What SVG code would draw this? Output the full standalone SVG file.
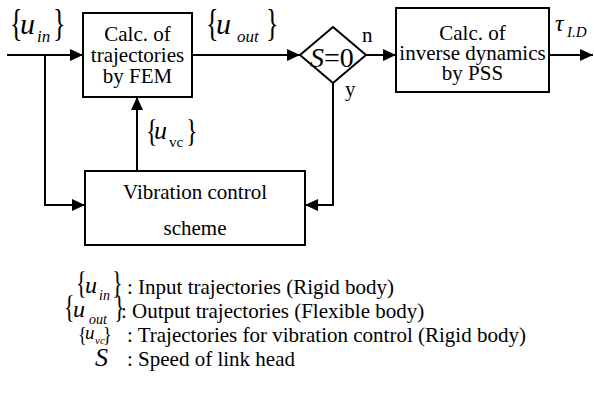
<svg xmlns="http://www.w3.org/2000/svg" width="594" height="396" viewBox="0 0 594 396" font-family="'Liberation Serif', 'Times New Roman', serif">
<style>
text{font-family:'Liberation Serif','Times New Roman',serif;fill:#000}
.lbl{font-size:21px;text-anchor:middle}
.it{font-style:italic}
.leg{font-size:21px}
.box{fill:#fff;stroke:#000;stroke-width:2}
.ln{fill:none;stroke:#000;stroke-width:2}
</style>
<defs>
<marker id="ah" markerUnits="userSpaceOnUse" markerWidth="14" markerHeight="12" refX="13" refY="6" orient="auto">
<path d="M0,0 L13,6 L0,12 Z" fill="#000"/>
</marker>
</defs>
<rect width="594" height="396" fill="#fff"/>
<g id="connectors">
<path class="ln" d="M7,55 H83" marker-end="url(#ah)"/>
<path class="ln" d="M45,55 V205 H85" marker-end="url(#ah)"/>
<path class="ln" d="M192,55 H300" marker-end="url(#ah)"/>
<path class="ln" d="M366,55 H396" marker-end="url(#ah)"/>
<path class="ln" d="M549,55 H593" marker-end="url(#ah)"/>
<path class="ln" d="M333,83 V205 H305" marker-end="url(#ah)"/>
<path class="ln" d="M137,171 V97" marker-end="url(#ah)"/>
</g>
<g id="fem">
<rect class="box" x="83" y="13" width="109" height="84"/>
<text class="lbl" x="137.5" y="41">Calc. of</text>
<text class="lbl" x="137.5" y="62">trajectories</text>
<text class="lbl" x="137.5" y="83">by FEM</text>
</g>
<g id="decision">
<path class="box" d="M333,27 L366,55 L333,83 L300,55 Z"/>
<text x="310" y="67" font-size="28"><tspan class="it">S</tspan>=0</text>
<text x="362" y="42" font-size="21">n</text>
<text x="345" y="96" font-size="21">y</text>
</g>
<g id="pss">
<rect class="box" x="396" y="8" width="153" height="84"/>
<text class="lbl" x="472.5" y="40">Calc. of</text>
<text class="lbl" x="472.5" y="60">inverse dynamics</text>
<text class="lbl" x="472.5" y="80">by PSS</text>
</g>
<g id="vib">
<rect class="box" x="85" y="171" width="220" height="74"/>
<text class="lbl" x="195" y="199">Vibration control</text>
<text class="lbl" x="195" y="235">scheme</text>
</g>
<g id="labels">
<text transform="translate(10,36) scale(1,1.45)" font-size="26">{</text>
<text x="20" y="34" font-size="30" class="it">u</text>
<text x="37" y="42" font-size="17" class="it">in</text>
<text transform="translate(53,36) scale(1,1.45)" font-size="26">}</text>

<text transform="translate(206,36) scale(1,1.45)" font-size="26">{</text>
<text x="216" y="34" font-size="30" class="it">u</text>
<text x="237" y="42" font-size="17" class="it">out</text>
<text transform="translate(266,36) scale(1,1.45)" font-size="26">}</text>

<text transform="translate(146,142) scale(1,1.3)" font-size="24">{</text>
<text x="154" y="139" font-size="26" class="it">u</text>
<text x="169" y="147" font-size="15">vc</text>
<text transform="translate(186,142) scale(1,1.3)" font-size="24">}</text>

<text x="555" y="31" font-size="24" class="it">τ</text>
<text x="567" y="37" font-size="15" class="it">I.D</text>
</g>
<g id="legend">
<text transform="translate(76,294) scale(1,1.4)" font-size="22">{</text>
<text x="85" y="293" font-size="24" class="it">u</text>
<text x="99" y="300" font-size="14" class="it">in</text>
<text transform="translate(112,294) scale(1,1.4)" font-size="22">}</text>
<text class="leg" x="127" y="294">: Input trajectories (Rigid body)</text>

<text transform="translate(64,318) scale(1,1.4)" font-size="22">{</text>
<text x="73" y="317" font-size="24" class="it">u</text>
<text x="89" y="324" font-size="14" class="it">out</text>
<text transform="translate(114,318) scale(1,1.4)" font-size="22">}</text>
<text class="leg" x="121" y="318">: Output trajectories (Flexible body)</text>

<text transform="translate(78,341) scale(1,1.2)" font-size="18">{</text>
<text x="85" y="339" font-size="19" class="it">u</text>
<text x="95" y="344" font-size="11" class="it">vc</text>
<text transform="translate(103,341) scale(1,1.2)" font-size="18">}</text>
<text class="leg" x="127" y="342">: Trajectories for vibration control (Rigid body)</text>

<text x="95" y="366" font-size="26" class="it">S</text>
<text class="leg" x="127" y="366">: Speed of link head</text>
</g>
</svg>
